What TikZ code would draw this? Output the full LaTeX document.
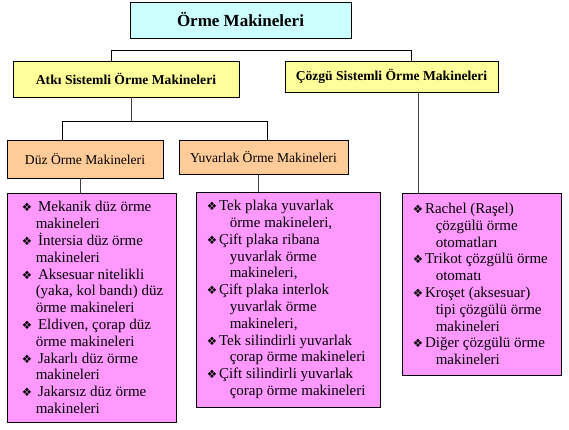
\documentclass[tikz,border=0pt]{standalone}
\usepackage{fontspec}
\setmainfont{Liberation Serif}
\newfontfamily\symfont{DejaVu Sans}
\newcommand\bul{{\symfont\fontsize{11.5}{11.5}\selectfont ❖}}
\newcommand\lft{\hspace*{14pt}}
\newcommand\rgt{\hspace*{23pt}}

\definecolor{cyanbox}{HTML}{CCFFFF}
\definecolor{yellowbox}{HTML}{FFFF99}
\definecolor{peachbox}{HTML}{FFCC99}
\definecolor{listbox}{HTML}{FF99FF}
\tikzset{
  box/.style={draw=black, line width=0.9pt, minimum height=#1, inner sep=0pt},
  lst/.style={draw=black, line width=0.9pt, fill=listbox, inner sep=0pt},
  lsttext/.style={anchor=west, align=left, inner sep=0pt,
    font=\fontsize{15}{16.8}\selectfont},
  conn/.style={line width=0.8pt, black!75}
}

\begin{document}
\begin{tikzpicture}[x=1pt,y=-1pt]
\useasboundingbox (0,0) rectangle (569,430);
% top level
\node[box=36pt, minimum width=221pt, fill=cyanbox, font=\bfseries\fontsize{17}{20}\selectfont] (orme) at (240.5,20) {Örme Makineleri};
\node[box=36pt, minimum width=226pt, fill=yellowbox, font=\bfseries\fontsize{13.6}{16}\selectfont] (atki) at (126,79) {Atkı Sistemli Örme Makineleri};
\node[box=31pt, minimum width=213pt, fill=yellowbox, font=\bfseries\fontsize{13.6}{16}\selectfont] (cozgu) at (391.5,76.5) {Çözgü Sistemli Örme Makineleri};
% second level
\node[box=38pt, minimum width=156pt, fill=peachbox, font=\fontsize{13.6}{16}\selectfont] (duz) at (85,159) {Düz Örme Makineleri};
\node[box=34pt, minimum width=169pt, fill=peachbox, font=\fontsize{13.6}{16}\selectfont] (yuv) at (263.5,157) {Yuvarlak Örme Makineleri};
% lists
\node[lst, minimum width=169pt, minimum height=229pt] (lduz) at (91.5,307.5) {};
\node[lsttext] (tduz) at ([xshift=15pt]lduz.west) {%
\bul\hspace{6pt}Mekanik düz örme\\\lft makineleri\\
\bul\hspace{6pt}İntersia düz örme\\\lft makineleri\\
\bul\hspace{6pt}Aksesuar nitelikli\\\lft(yaka, kol bandı) düz\\\lft örme makineleri\\
\bul\hspace{6pt}Eldiven, çorap düz\\\lft örme makineleri\\
\bul\hspace{6pt}Jakarlı düz örme\\\lft makineleri\\
\bul\hspace{6pt}Jakarsız düz örme\\\lft makineleri};
\node[lst, minimum width=184pt, minimum height=215pt] (lyuv) at (288,299.5) {};
\node[lsttext] (tyuv) at ([xshift=11pt]lyuv.west) {%
\bul\hspace{2pt}Tek plaka yuvarlak\\\rgt örme makineleri,\\
\bul\hspace{2pt}Çift plaka ribana\\\rgt yuvarlak örme\\\rgt makineleri,\\
\bul\hspace{2pt}Çift plaka interlok\\\rgt yuvarlak örme\\\rgt makineleri,\\
\bul\hspace{2pt}Tek silindirli yuvarlak\\\rgt çorap örme makineleri\\
\bul\hspace{2pt}Çift silindirli yuvarlak\\\rgt çorap örme makineleri};
\node[lst, minimum width=159pt, minimum height=182pt] (lcoz) at (481.5,284) {};
\node[lsttext] (tcoz) at ([xshift=11pt]lcoz.west) {%
\bul\hspace{2pt}Rachel (Raşel)\\\rgt çözgülü örme\\\rgt otomatları\\
\bul\hspace{2pt}Trikot çözgülü örme\\\rgt otomatı\\
\bul\hspace{2pt}Kroşet (aksesuar)\\\rgt tipi çözgülü örme\\\rgt makineleri\\
\bul\hspace{2pt}Diğer çözgülü örme\\\rgt makineleri};
% connectors
\coordinate (ja) at (111,50);
\coordinate (jc) at (411,50);
\draw [line width=0.8pt] (ja |- atki.north) -- (ja) -- (jc) -- (jc |- cozgu.north);
\coordinate (ka) at (131,121);
\coordinate (jd) at (62,121);
\coordinate (jy) at (267,121);
\draw [conn] (ka |- atki.south) -- (ka);
\draw [line width=0.8pt] (jd |- duz.north) -- (jd) -- (jy) -- (jy |- yuv.north);
\coordinate (kd) at (80,185);
\coordinate (ky) at (258,185);
\coordinate (kc) at (418,185);
\draw [conn] (kd |- duz.south) -- (kd |- lduz.north);
\draw [conn] (ky |- yuv.south) -- (ky |- lyuv.north);
\draw [conn] (kc |- cozgu.south) -- (kc |- lcoz.north);
\end{tikzpicture}
\end{document}
